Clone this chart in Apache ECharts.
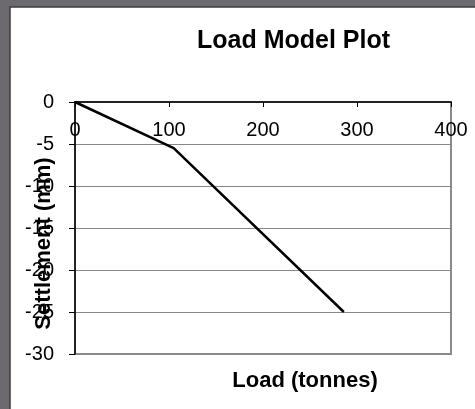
<!DOCTYPE html>
<html>
<head>
<meta charset="utf-8">
<script src="https://cdn.jsdelivr.net/npm/echarts@6/dist/echarts.min.js"></script>
<style>
html,body{margin:0;padding:0;background:#6c6a6f;}
#c{width:475px;height:409px;}
</style>
</head>
<body>
<div id="c"></div>
<script>
var titleText = 'Load Model Plot';
var xName = 'Load (tonnes)';
var yName = 'Settlement (mm)';
var loads = [0, 105, 286];
var settlements = [0, -5.5, -25];

var FONT = '"Liberation Sans", Arial, sans-serif';
var chart = echarts.init(document.getElementById('c'));
var pts = loads.map(function (l, i) { return [l, settlements[i]]; });

chart.setOption({
  backgroundColor: '#6c6a6f',
  animation: false,
  graphic: [
    { type: 'rect', z: -10, shape: { x: 10, y: 7, width: 470, height: 410 },
      style: { fill: '#ffffff', stroke: '#3c3c3e', lineWidth: 1.5 } },
    { type: 'text', x: 293.5, y: 41.5, z: 10,
      style: { text: titleText, font: 'bold 25px ' + FONT, fill: '#000', textAlign: 'center', textVerticalAlign: 'middle' } },
    { type: 'text', x: 305, y: 381, z: 10,
      style: { text: xName, font: 'bold 22px ' + FONT, fill: '#000', textAlign: 'center', textVerticalAlign: 'middle' } },
    { type: 'text', x: 44, y: 243.5, rotation: Math.PI / 2, z: 10,
      style: { text: yName, font: 'bold 22px ' + FONT, fill: '#000', textAlign: 'center', textVerticalAlign: 'middle' } }
  ],
  grid: { left: 75, top: 102, right: 24, bottom: 55, show: true, borderColor: '#8a8a8a', borderWidth: 2, backgroundColor: 'transparent' },
  xAxis: {
    type: 'value', min: 0, max: 400, interval: 100, position: 'top',
    axisLine: { show: true, onZero: false, lineStyle: { color: '#000', width: 1.5 } },
    axisTick: { show: true, inside: true, length: 5, lineStyle: { color: '#000' } },
    axisLabel: { inside: true, margin: 18, color: '#000', fontSize: 20, fontFamily: FONT },
    splitLine: { show: false }
  },
  yAxis: {
    type: 'value', min: -30, max: 0, interval: 5,
    axisLine: { show: true, lineStyle: { color: '#000', width: 1.5 } },
    axisTick: { show: true, inside: false, length: 6, lineStyle: { color: '#000' } },
    axisLabel: { margin: 21, color: '#000', fontSize: 20, fontFamily: FONT },
    splitLine: { show: true, lineStyle: { color: '#888', width: 1 } }
  },
  series: [{
    type: 'line', data: pts, symbol: 'none', lineStyle: { color: '#000', width: 2.5 }, z: 5
  }]
});
</script>
</body>
</html>
